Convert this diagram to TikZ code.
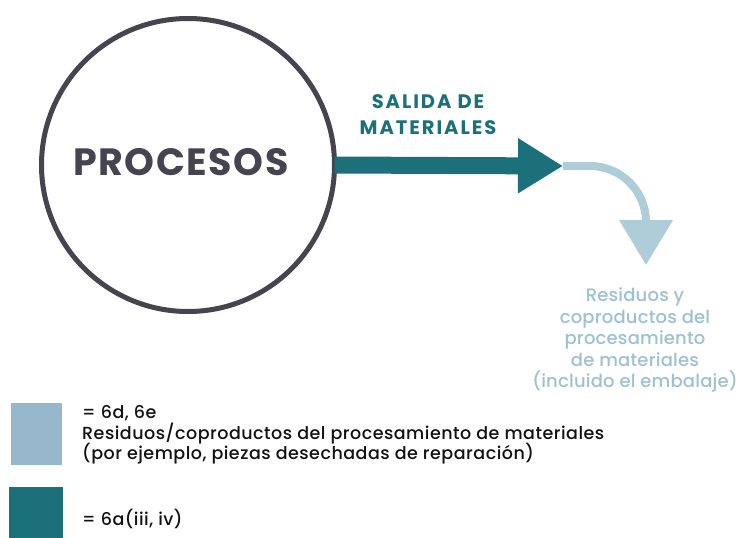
\documentclass[tikz,border=0pt]{standalone}
\usepackage{fontspec}
\IfFontExistsTF{Poppins Medium}{%
  \setmainfont{Poppins Medium}[BoldFont=Poppins Bold]%
}{%
  \setmainfont{Poppins}[FakeBold=0.4, BoldFeatures={FakeBold=0}]%
}
\usetikzlibrary{arrows.meta}
\definecolor{teal}{HTML}{1B707A}
\definecolor{lightarrow}{HTML}{AFCDD9}
\definecolor{lightsq}{HTML}{97B8CC}
\definecolor{labeltxt}{HTML}{9DC1D2}
\definecolor{circgray}{HTML}{46444F}
\definecolor{legtxt}{HTML}{111111}
\tikzset{
  lbl/.style={anchor=base, inner sep=0pt, text=labeltxt, font=\fontsize{18}{22}\selectfont\addfontfeature{LetterSpace=1}},
  legline/.style={anchor=base west, inner sep=0pt, text=legtxt, font=\fontsize{17.5}{21}\selectfont\addfontfeature{LetterSpace=2.8}},
  head/.style={anchor=base, inner sep=0pt, text=teal, font=\fontsize{19.5}{23}\selectfont\bfseries\addfontfeature{LetterSpace=10}},
}
\begin{document}
\begin{tikzpicture}[x=1pt,y=-1pt]
\useasboundingbox (0,0) rectangle (739,538);
% circle
\node[circle, draw=circgray, line width=5pt, minimum size=293pt, inner sep=0pt, outer sep=0pt] (proc) at (188,165) {};
\node[anchor=base, inner sep=0pt, text=circgray, font=\fontsize{38}{40}\selectfont\bfseries\addfontfeature{LetterSpace=4}] (proctxt) at (181,175) {PROCESOS};
% light arrow
\coordinate (tip) at (563,166);
\coordinate (bend) at (590,166);
\coordinate (down) at (646,222);
\coordinate (end) at (646,265);
\draw[lightarrow, line width=8pt, -{Triangle[length=45pt,width=52pt]}]
  (tip) -- (bend) .. controls (621,166) and (646,191) .. (down) -- (end);
% dark arrow
\draw[teal, line width=17pt, -{Triangle[length=45pt,width=52pt]}] (proc.east) -- (tip);
% labels
\node[head] (s1) at (428,108) {SALIDA DE};
\node[head] (s2) at (428,134) {MATERIALES};
\node[lbl] (r1) at (635,301) {Residuos y};
\node[lbl] (r2) at (635,323) {coproductos del};
\node[lbl] (r3) at (635,344.5) {procesamiento};
\node[lbl] (r4) at (635,366) {de materiales};
\node[lbl] (r5) at (635,387.5) {(incluido el embalaje)};
% legend
\fill[lightsq] (11,403) rectangle (62,465);
\fill[teal] (9,487) rectangle (63,538);
\node[legline] (l1) at (82,418) {= 6d, 6e};
\node[legline] (l2) at (82,439) {Residuos/coproductos del procesamiento de materiales};
\node[legline] (l3) at (82,459) {(por ejemplo, piezas desechadas de reparación)};
\node[legline] (l4) at (82,525) {= 6a(iii, iv)};
\end{tikzpicture}
\end{document}
